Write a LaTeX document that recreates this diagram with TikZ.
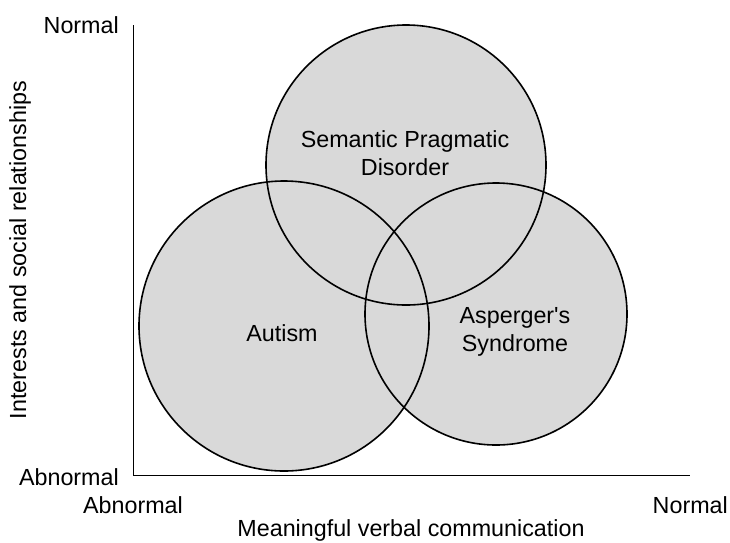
\documentclass[tikz,border=0pt]{standalone}
\usepackage{fontspec}
\setmainfont{Liberation Sans}
\usepackage{tikz}
\usetikzlibrary{arrows,positioning,calc}

\begin{document}
\begin{tikzpicture}[x=1pt,y=-1pt]
\tikzstyle{axe}=[line width=1pt]
\tikzstyle{zone}=[circle,fill=black!15,inner sep=0pt]
\tikzstyle{contour}=[line width=1.6pt]
\tikzstyle{etiquette}=[font=\fontsize{23.3}{28}\selectfont,align=center,inner sep=0pt]
\def\RayonSPD{140}
\def\RayonAut{145}
\def\RayonAsp{131}
\useasboundingbox (0,0) rectangle (730,542);
% axes
\coordinate (O) at (133,475);
\coordinate (Ytop) at (133,25);
\coordinate (Xend) at (690,475);
\draw[axe] (Ytop)--(O)--(Xend);
% zones
\node[zone,minimum size=2*\RayonSPD pt] (SPD) at (406,165) {};
\node[zone,minimum size=2*\RayonAut pt] (Aut) at (284,326) {};
\node[zone,minimum size=2*\RayonAsp pt] (Asp) at (496,314) {};
\draw[contour] (SPD.center) circle[radius=\RayonSPD];
\draw[contour] (Aut.center) circle[radius=\RayonAut];
\draw[contour] (Asp.center) circle[radius=\RayonAsp];
% labels
\node[etiquette] (tSPD) at (405,153) {Semantic Pragmatic\\Disorder};
\node[etiquette] (tAut) at (282,333) {Autism};
\node[etiquette] (tAsp) at (515,332) {Asperger\textquotesingle s\\Syndrome};
\node[etiquette,anchor=east] (yNormal) at (119,25) {Normal};
\node[etiquette,anchor=east] (yAbnormal) at (119,477) {Abnormal};
\node[etiquette] (xAbnormal) at (133,505) {Abnormal};
\node[etiquette,anchor=east] (xNormal) at (728,505) {Normal};
\node[etiquette] (xTitre) at (411,530) {Meaningful verbal communication};
\node[etiquette,rotate=90] (yTitre) at (20,250) {Interests and social relationships};
\end{tikzpicture}
\end{document}
